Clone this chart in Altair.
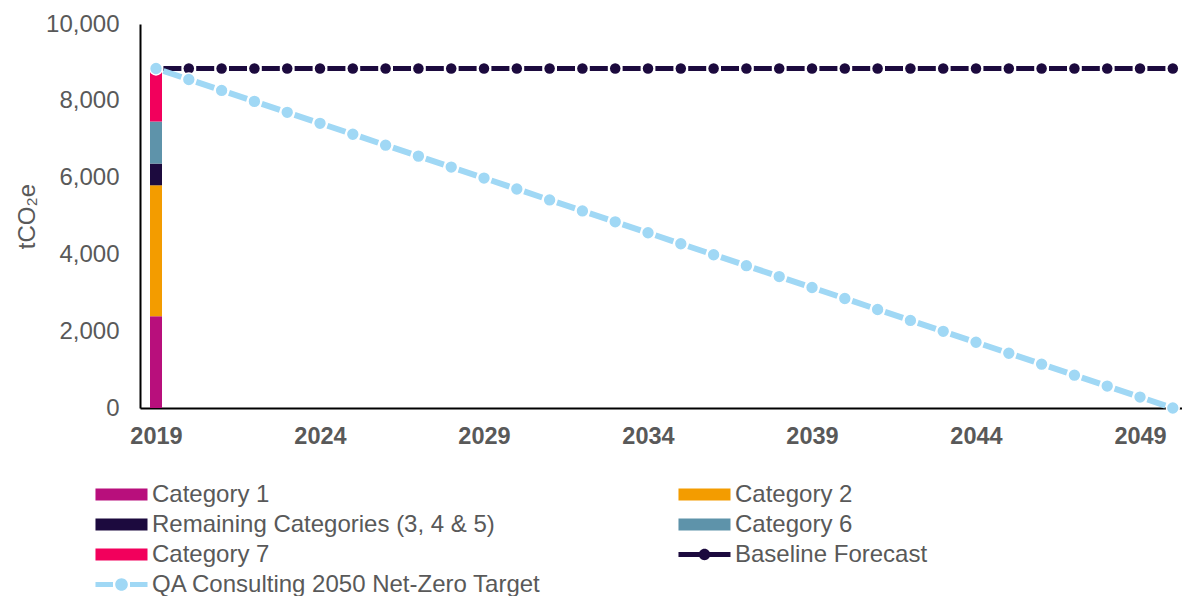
import altair as alt
import pandas as pd

# ---------------- data ----------------
years = list(range(2019, 2051))

bar_series = ["Category 1", "Category 2", "Remaining Categories (3, 4 & 5)",
              "Category 6", "Category 7"]
bar_values = [2390, 3410, 565, 1095, 1380]

baseline_values = [8840, 8840, 8840, 8840, 8840, 8840, 8840, 8840, 8840, 8840,
                   8840, 8840, 8840, 8840, 8840, 8840, 8840, 8840, 8840, 8840,
                   8840, 8840, 8840, 8840, 8840, 8840, 8840, 8840, 8840, 8840,
                   8840, 8840]

target_values = [8840, 8555, 8270, 7985, 7699, 7414, 7129, 6844, 6559, 6274,
                 5988, 5703, 5418, 5133, 4848, 4563, 4277, 3992, 3707, 3422,
                 3137, 2852, 2566, 2281, 1996, 1711, 1426, 1141, 855, 570,
                 285, 0]

# legend entries (listed column by column: left column, then right column)
legend_names = ["Category 1", "Remaining Categories (3, 4 & 5)", "Category 7",
                "QA Consulting 2050 Net-Zero Target",
                "Category 2", "Category 6", "Baseline Forecast"]

x_ticks = [2019, 2024, 2029, 2034, 2039, 2044, 2049]
y_ticks = [0, 2000, 4000, 6000, 8000, 10000]

# ---------------- styles ----------------
bar_colors = ["#B80F7C", "#F39C00", "#1C0A3E", "#5E93AA", "#F2005C"]
baseline_color = "#1C0A3E"
target_color = "#A0D8F5"

rect_path = "M-7.42,-1H1.25V1H-7.42Z"
base_path = ("M-7.42,-0.42H1.25V0.42H-7.42Z "
             "M-4.03,0A0.95,0.95 0 1,1 -2.13,0A0.95,0.95 0 1,1 -4.03,0Z")
target_path = ("M-7.42,-0.42H-4.5V0.42H-7.42Z M-1.67,-0.42H1.25V0.42H-1.67Z "
               "M-4.13,0A1.05,1.05 0 1,1 -2.03,0A1.05,1.05 0 1,1 -4.13,0Z")

legend_colors = ["#B80F7C", "#1C0A3E", "#F2005C", target_color,
                 "#F39C00", "#5E93AA", baseline_color]
legend_shapes = [rect_path, rect_path, rect_path, target_path,
                 rect_path, rect_path, base_path]

FONT = "Liberation Sans"
GREY = "#595959"

bar_df = pd.DataFrame({"year": [2019] * len(bar_series), "series": bar_series,
                       "value": bar_values, "rank": list(range(len(bar_series)))})
line_df = pd.DataFrame({"year": years, "baseline": baseline_values,
                        "target": target_values})
legend_df = pd.DataFrame({"series": legend_names, "year": [2019] * 7,
                          "value": [0] * 7})

x_scale = alt.Scale(domain=[2018.512, 2050.28], nice=False, zero=False, padding=0)
y_scale = alt.Scale(domain=[0, 10000], nice=False)

x_axis = alt.Axis(values=x_ticks, format="d", title=None, grid=False,
                  ticks=False, tickSize=0, labelFont=FONT, labelFontSize=23.5,
                  labelFontWeight="bold", labelColor=GREY, labelPadding=16,
                  domainColor="#000000", domainWidth=2, labelFlush=False)
y_axis = alt.Axis(values=y_ticks, format=",d", title="tCO\u2082e", grid=False,
                  ticks=False, tickSize=0, labelFont=FONT, labelFontSize=24,
                  labelColor=GREY, labelPadding=21, domainColor="#000000",
                  domainWidth=2, titleFont=FONT, titleFontSize=24,
                  titleFontWeight="normal", titleColor=GREY, titleX=-113,
                  titleY=192, titleBaseline="middle", titleAngle=-90)

X = alt.X("year:Q", scale=x_scale, axis=x_axis)

bars = alt.Chart(bar_df).mark_bar(size=12).encode(
    x=X,
    y=alt.Y("value:Q", stack="zero", scale=y_scale, axis=y_axis),
    fill=alt.Fill("series:N", scale=alt.Scale(domain=bar_series, range=bar_colors),
                  legend=None),
    order=alt.Order("rank:Q"),
)

base_line = alt.Chart(line_df).mark_line(
    color=baseline_color, strokeWidth=5, strokeDash=[18, 14.8],
    strokeDashOffset=25.4).encode(x=X, y=alt.Y("baseline:Q", scale=y_scale, axis=y_axis))
base_pts = alt.Chart(line_df).mark_point(
    filled=True, shape="circle", size=110, color=baseline_color, opacity=1).encode(
    x=X, y=alt.Y("baseline:Q", scale=y_scale, axis=y_axis))

target_line = alt.Chart(line_df).mark_line(
    color=target_color, strokeWidth=6, strokeDash=[19, 15.58],
    strokeDashOffset=26.8).encode(x=X, y=alt.Y("target:Q", scale=y_scale, axis=y_axis))
target_pts = alt.Chart(line_df).mark_point(
    filled=True, shape="circle", size=165, fill=target_color, stroke="white",
    strokeWidth=1.5, opacity=1).encode(
    x=X, y=alt.Y("target:Q", scale=y_scale, axis=y_axis))

legend_def = alt.Legend(orient="none", legendX=-12, legendY=458.5,
                        columns=2, title=None, symbolSize=144,
                        labelFont=FONT, labelFontSize=24,
                        labelColor=GREY, labelLimit=700,
                        labelOffset=0, rowPadding=6,
                        columnPadding=136, symbolStrokeWidth=0,
                        symbolOpacity=1, padding=0)

legend_layer = alt.Chart(legend_df).mark_point(filled=True).encode(
    x=X,
    y=alt.Y("value:Q", scale=y_scale, axis=y_axis),
    color=alt.Color("series:N",
                    scale=alt.Scale(domain=legend_names, range=legend_colors),
                    legend=legend_def),
    shape=alt.Shape("series:N",
                    scale=alt.Scale(domain=legend_names, range=legend_shapes),
                    legend=legend_def),
    size=alt.value(0),
)

chart = alt.layer(bars, base_line, base_pts, target_line, target_pts,
                  legend_layer).properties(
    width=1042, height=384,
    autosize=alt.AutoSizeParams(type="none"),
    padding={"left": 140, "top": 24, "right": 0, "bottom": 188},
    background="white",
).configure_view(stroke=None)

chart.save("out.html", embed_options={"renderer": "svg", "actions": False})
